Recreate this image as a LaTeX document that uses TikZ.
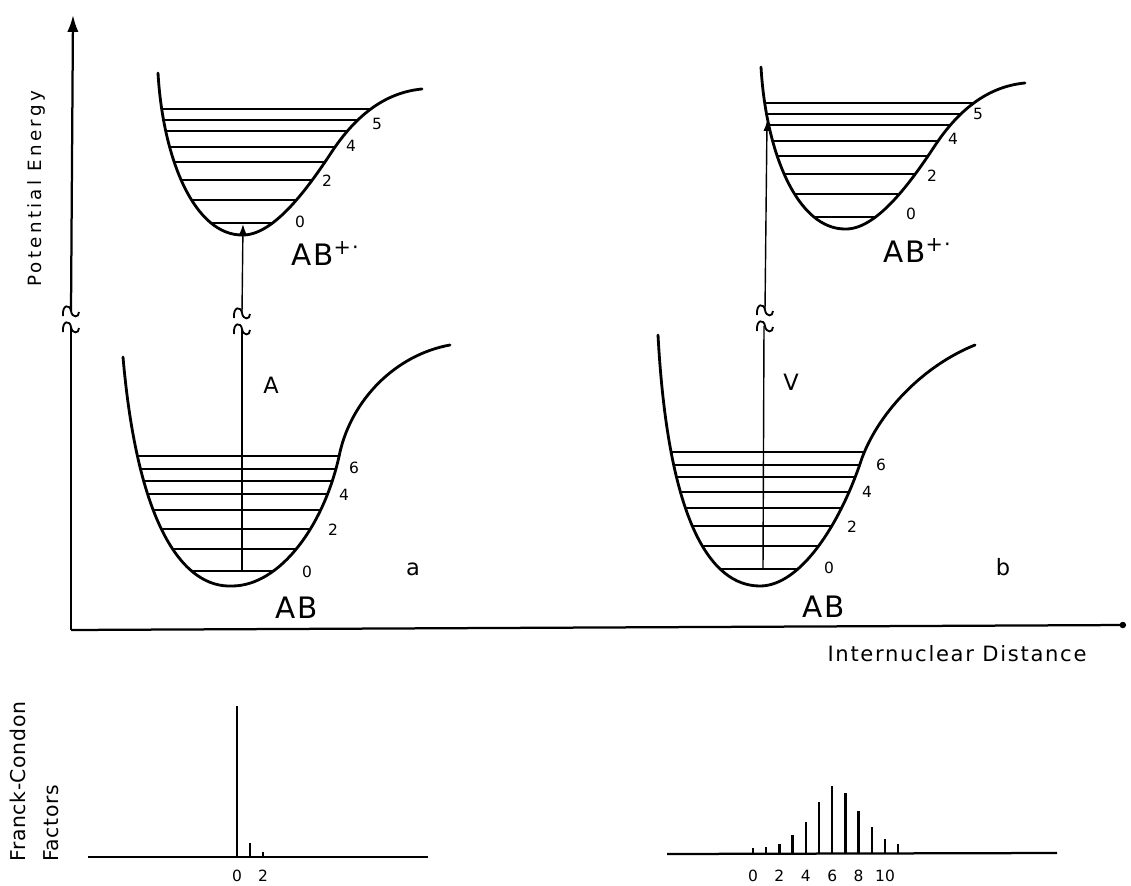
\documentclass[tikz,border=0pt]{standalone}
\usepackage{fontspec}
\setmainfont{DejaVu Sans}
\usetikzlibrary{arrows.meta}

% potential wells, pixel frame
\newcommand{\upwell}{(158,73) .. controls (163,160) and (195,236) .. (243,235)
  .. controls (275,235) and (310,185) .. (333,150) .. controls (360,110) and (390,92) .. (422,89)}
\newcommand{\lowwellA}{(123,357) .. controls (138,530) and (185,588) .. (232,586)
  .. controls (280,586) and (325,525) .. (340,452) .. controls (352,400) and (395,355) .. (450,345)}
\newcommand{\lowwellB}{(658,335) .. controls (668,520) and (710,586) .. (760,586)
  .. controls (800,586) and (840,525) .. (862,458) .. controls (880,410) and (925,365) .. (975,345)}

\tikzset{
  well/.style={line width=2pt, line cap=round},
  level/.style={line width=1.4pt},
  trans/.style={line width=1pt},
  axis/.style={line width=1.6pt},
  bar/.style={line width=1.7pt},
  brkpair/.pic={
    \draw[line width=1.3pt] (-8,-3) .. controls (-9,-15) and (-1,-15) .. (0,-8) .. controls (1,-1) and (8,-1) .. (8,-7);
    \draw[line width=1.3pt] (-8,13) .. controls (-9,1) and (-1,1) .. (0,8) .. controls (1,15) and (8,15) .. (8,9);
  },
  num/.style={font=\fontsize{11}{12}\selectfont},
  state/.style={font=\fontsize{21}{24}\selectfont\addfontfeature{LetterSpace=6}},
  lbl/.style={font=\fontsize{16}{18}\selectfont}
}

\begin{document}
\begin{tikzpicture}[x=0.025cm, y=-0.025cm]
  \useasboundingbox (0,0) rectangle (1131,886);

  % axes
  \coordinate (origin) at (71,630);
  \coordinate (ytop) at (73,15);
  \coordinate (xend) at (1126,625);
  \coordinate (ybrk-lo) at (71,327);
  \coordinate (ybrk-hi) at (71,311);
  \draw[axis] (origin) -- (ybrk-lo);
  \draw[axis, -{Latex[length=12pt, width=8pt]}] (ybrk-hi) -- (ytop);
  \draw[axis, -{Circle[length=4.5pt]}] (origin) -- (xend);
  \pic at (71,319) {brkpair};
  \node[font=\fontsize{13}{15}\selectfont\addfontfeature{LetterSpace=18}, rotate=90] (ylabel) at (36,189) {Potential Energy};
  \node[font=\fontsize{15}{17}\selectfont\addfontfeature{LetterSpace=8}] (xlabel) at (957,654) {Internuclear Distance};

  % vibrational levels
  \begin{scope}
    \clip \upwell -- cycle;
    \foreach \y in {109,120,131,147,162,180,200,223} \draw[level] (100,\y) -- (500,\y);
  \end{scope}
  \begin{scope}[shift={(603,-6)}]
    \clip \upwell -- cycle;
    \foreach \y in {109,120,131,147,162,180,200,223} \draw[level] (100,\y) -- (500,\y);
  \end{scope}
  \begin{scope}
    \clip \lowwellA -- cycle;
    \foreach \y in {456,469,481,494,510,529,549,571} \draw[level] (100,\y) -- (500,\y);
  \end{scope}
  \begin{scope}
    \clip \lowwellB -- cycle;
    \foreach \y in {452,465,477,492,508,526,546,569} \draw[level] (600,\y) -- (1000,\y);
  \end{scope}

  % potential curves
  \draw[well] \upwell;
  \draw[well, shift={(603,-6)}] \upwell;
  \draw[well] \lowwellA;
  \draw[well] \lowwellB;

  % transitions
  \coordinate (a-lo) at (242,571);
  \coordinate (a-hi) at (243,224);
  \coordinate (abrk-lo) at (242,329);
  \coordinate (abrk-hi) at (242,313);
  \draw[trans] (a-lo) -- (abrk-lo);
  \draw[trans, -{Latex[length=7pt, width=5pt]}] (abrk-hi) -- (a-hi);
  \pic at (242,321) {brkpair};
  \coordinate (v-lo) at (763,569);
  \coordinate (v-hi) at (767,121);
  \coordinate (vbrk-lo) at (764,326);
  \coordinate (vbrk-hi) at (765,310);
  \draw[trans] (v-lo) -- (vbrk-lo);
  \draw[trans, -{Latex[length=7pt, width=5pt]}] (vbrk-hi) -- (v-hi);
  \pic at (765,318) {brkpair};

  % level numbers
  \foreach \n/\x/\y in {5/377/130, 4/351/152, 2/327/187, 0/300/227,
                        5/978/120, 4/953/145, 2/932/182, 0/911/220,
                        6/354/473, 4/344/500, 2/333/535, 0/307/577,
                        6/881/470, 4/867/497, 2/852/532, 0/829/573}
    \node[num, anchor=base, inner sep=0pt] at (\x,\y) {\n};

  % state labels
  \node[state, anchor=base west, inner sep=0pt] (ionA) at (291,265) {AB\textsuperscript{+·}};
  \node[state, anchor=base west, inner sep=0pt] (ionB) at (883,262) {AB\textsuperscript{+·}};
  \node[state, anchor=base west, inner sep=0pt] (molA) at (275,618) {AB};
  \node[state, anchor=base west, inner sep=0pt] (molB) at (802,617) {AB};
  \node[lbl, anchor=base, inner sep=0pt] (adiab) at (271,393) {A};
  \node[lbl, anchor=base, inner sep=0pt] (vert) at (791,390) {V};
  \node[lbl, anchor=base, inner sep=0pt] (casea) at (413,575) {a};
  \node[lbl, anchor=base, inner sep=0pt] (caseb) at (1003,575) {b};

  % Franck-Condon factors
  \node[font=\fontsize{14.5}{23}\selectfont\addfontfeature{LetterSpace=3}, rotate=90, align=left, anchor=north west, inner sep=0pt] (fclabel) at (10,862) {Franck-Condon\\Factors};
  \draw[axis] (88,857) -- (428,857);
  \foreach \v/\t in {0/706, 1/843, 2/852}
    \draw[bar] ({237+13*\v},857) -- ({237+13*\v},\t);
  \foreach \v in {0,2}
    \node[num, anchor=base, inner sep=0pt] at ({237+13*\v},881) {\v};
  \draw[axis] (667,854) -- (1057,853);
  \foreach \v/\t in {0/848, 1/847, 2/844, 3/835, 4/822, 5/802, 6/786, 7/793, 8/811, 9/827, 10/839, 11/844}
    \draw[bar] ({753+13.2*\v},854) -- ({753+13.2*\v},\t);
  \foreach \v in {0,2,...,10}
    \node[num, anchor=base, inner sep=0pt] at ({753+13.2*\v},881) {\v};
\end{tikzpicture}
\end{document}
